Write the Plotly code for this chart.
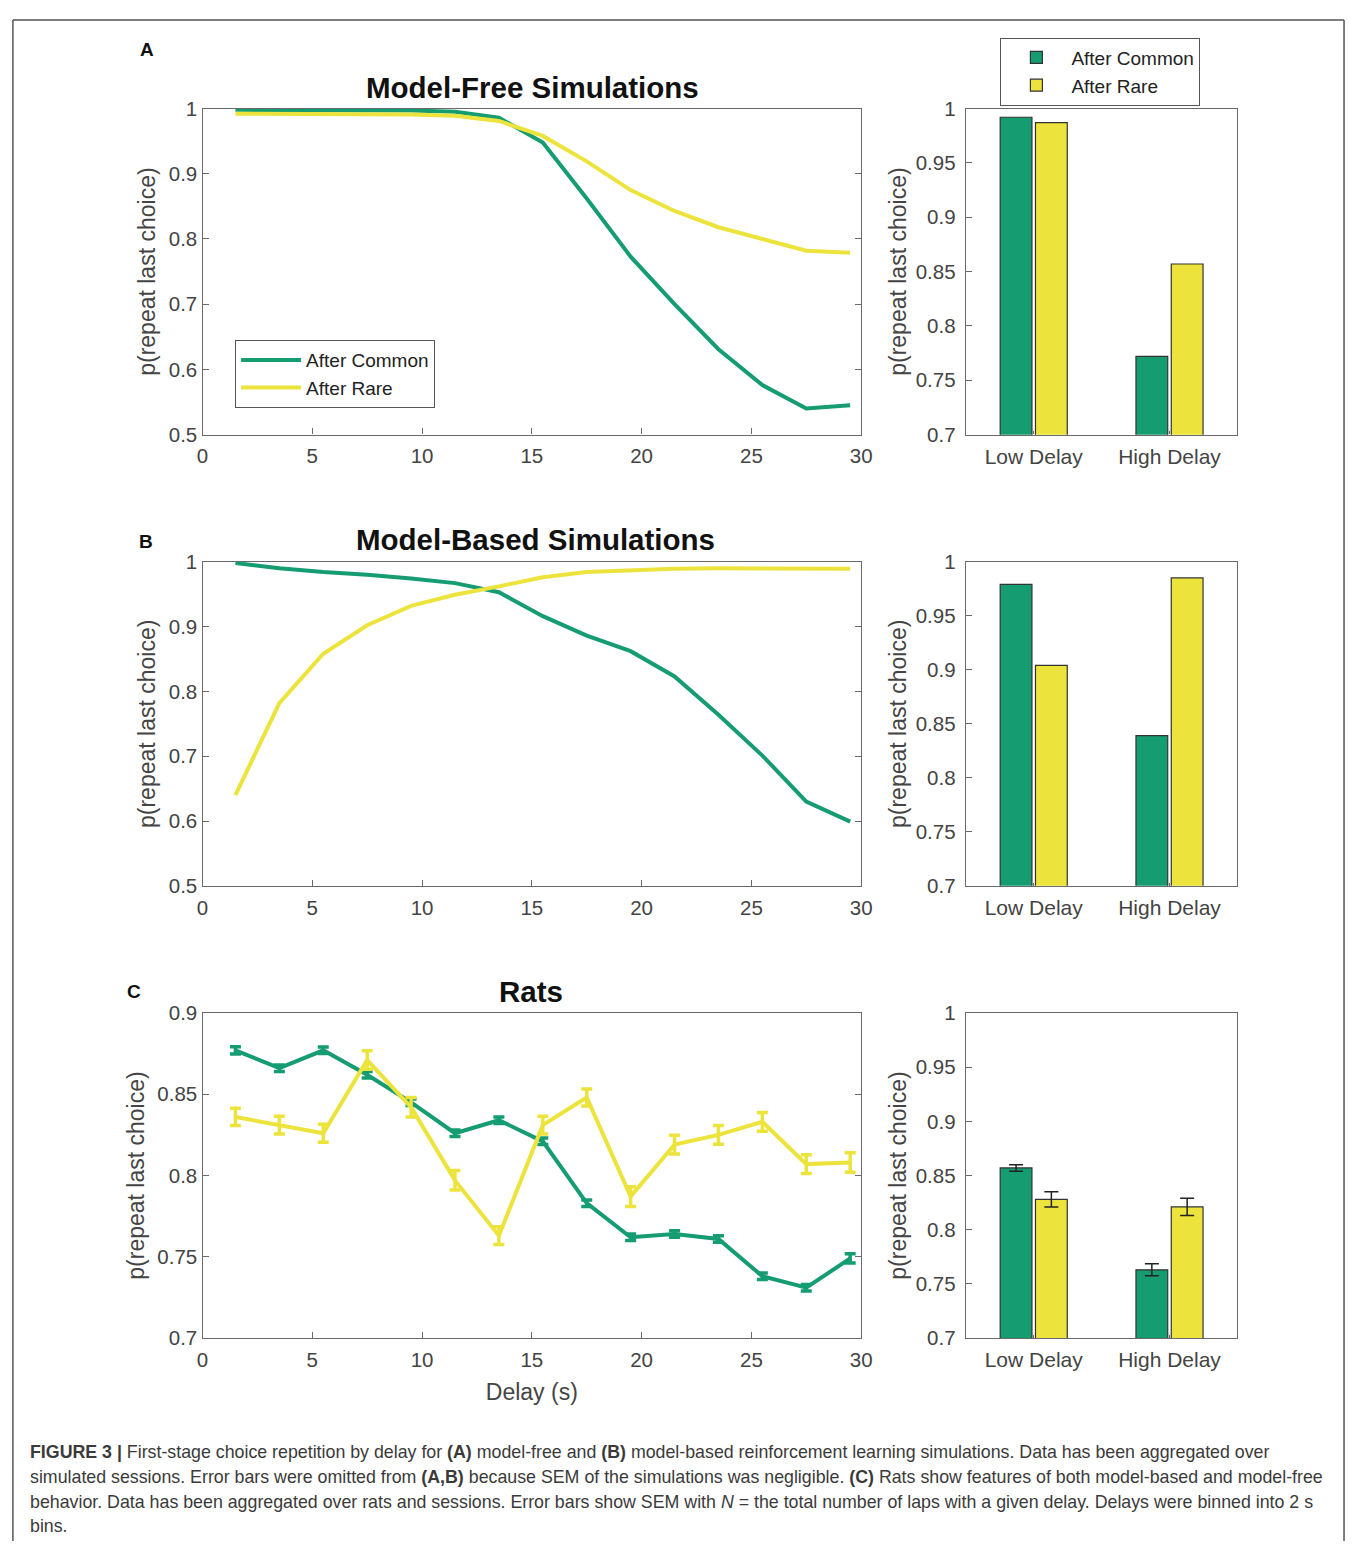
import plotly.graph_objects as go

# ---------------- data ----------------
delay = [1.5, 3.5, 5.5, 7.5, 9.5, 11.5, 13.5, 15.5, 17.5, 19.5, 21.5, 23.5, 25.5, 27.5, 29.5]

mf_common = [0.998, 0.998, 0.998, 0.998, 0.997, 0.995, 0.986, 0.948, 0.862, 0.773, 0.700, 0.631, 0.576, 0.540, 0.545]
mf_rare = [0.992, 0.992, 0.992, 0.991, 0.991, 0.989, 0.981, 0.958, 0.919, 0.875, 0.843, 0.818, 0.800, 0.782, 0.779]

mb_common = [0.998, 0.990, 0.984, 0.980, 0.974, 0.967, 0.953, 0.916, 0.886, 0.862, 0.823, 0.764, 0.701, 0.630, 0.599]
mb_rare = [0.640, 0.782, 0.858, 0.902, 0.932, 0.949, 0.962, 0.976, 0.984, 0.987, 0.989, 0.990, 0.990, 0.989, 0.989]

rat_common = [0.877, 0.866, 0.877, 0.862, 0.845, 0.826, 0.834, 0.821, 0.783, 0.762, 0.764, 0.761, 0.738, 0.731, 0.749]
rat_common_sem = [0.0022, 0.002, 0.002, 0.002, 0.002, 0.002, 0.002, 0.002, 0.002, 0.002, 0.002, 0.002, 0.002, 0.002, 0.0028]
rat_rare = [0.836, 0.831, 0.826, 0.871, 0.842, 0.797, 0.763, 0.831, 0.848, 0.787, 0.819, 0.825, 0.833, 0.807, 0.808]
rat_rare_sem = [0.0053, 0.0055, 0.0055, 0.0057, 0.006, 0.006, 0.0055, 0.0055, 0.0052, 0.006, 0.0058, 0.0058, 0.0058, 0.0058, 0.006]

bar_cats = ["Low Delay", "High Delay"]
mf_bar_common = [0.992, 0.772]
mf_bar_rare = [0.987, 0.857]
mb_bar_common = [0.979, 0.839]
mb_bar_rare = [0.904, 0.985]
rat_bar_common = [0.857, 0.763]
rat_bar_common_sem = [0.003, 0.0055]
rat_bar_rare = [0.828, 0.821]
rat_bar_rare_sem = [0.007, 0.008]

x_ticks = [0, 5, 10, 15, 20, 25, 30]
series_names = ["After Common", "After Rare"]

GREEN = "#169C71"
YELLOW = "#ECE43C"
FONT = "Liberation Sans, Arial, Helvetica, sans-serif"
AXC = "#6a6a6a"
TXT = "#444444"

W, H = 1358, 1552


def px(x):
    return x / W


def py(y):
    return 1 - y / H


fig = go.Figure()

# ---- line panels ----
line_sets = [
    ("x", "y", mf_common, mf_rare, None, None, True),
    ("x3", "y3", mb_common, mb_rare, None, None, False),
    ("x5", "y5", rat_common, rat_rare, rat_common_sem, rat_rare_sem, False),
]
for xa, ya, c, r, cs, rs, show in line_sets:
    for vals, sem, col, name in [(c, cs, GREEN, series_names[0]), (r, rs, YELLOW, series_names[1])]:
        tr = dict(
            x=delay, y=vals, mode="lines", name=name,
            line=dict(color=col, width=4),
            xaxis=xa, yaxis=ya, showlegend=show, legend="legend",
        )
        if sem is not None:
            tr["error_y"] = dict(type="data", array=sem, color=col, thickness=3.5, width=5.5)
        fig.add_trace(go.Scatter(**tr))

# ---- bar panels ----
bar_sets = [
    ("x2", "y2", mf_bar_common, mf_bar_rare, None, None, True),
    ("x4", "y4", mb_bar_common, mb_bar_rare, None, None, False),
    ("x6", "y6", rat_bar_common, rat_bar_rare, rat_bar_common_sem, rat_bar_rare_sem, False),
]
for xa, ya, c, r, cs, rs, show in bar_sets:
    for vals, sem, col, name in [(c, cs, GREEN, series_names[0]), (r, rs, YELLOW, series_names[1])]:
        tr = dict(
            x=bar_cats, y=vals, name=name,
            marker=dict(color=col, line=dict(color="#333333", width=1.2)),
            xaxis=xa, yaxis=ya, showlegend=show, legend="legend2",
        )
        if sem is not None:
            tr["error_y"] = dict(type="data", array=sem, color="#222222", thickness=1.5, width=7)
        fig.add_trace(go.Bar(**tr))

# ---- axes ----
rows = [(98, 429), (558, 887), (1016, 1346)]
line_x = (199, 866)
bar_x = (972, 1247)


def base_axis():
    return dict(
        showline=True, linecolor=AXC, linewidth=1.3,
        ticks="inside", ticklen=6, tickcolor=AXC, tickwidth=1,
        tickfont=dict(size=20.5, color=TXT, family=FONT),
        showgrid=False, zeroline=False,
    )


yt = dict(text="p(repeat last choice)", font=dict(size=23, color=TXT, family=FONT))
layout_axes = {}
line_yranges = [(0.5, 1.0, 0.1), (0.5, 1.0, 0.1), (0.7, 0.9, 0.05)]
for i, ((top, bot), (y0, y1, dt)) in enumerate(zip(rows, line_yranges)):
    xn = 2 * i + 1
    bn = 2 * i + 2
    xk = "xaxis" if xn == 1 else f"xaxis{xn}"
    yk = "yaxis" if xn == 1 else f"yaxis{xn}"
    ax = base_axis()
    ax.update(domain=[px(line_x[0]), px(line_x[1])], anchor="y" if xn == 1 else f"y{xn}",
              range=[0, 30], tickvals=x_ticks, mirror=True, ticklabelstandoff=3)
    if i == 2:
        ax["title"] = dict(text="Delay (s)", font=dict(size=23, color=TXT, family=FONT), standoff=14)
    layout_axes[xk] = ax
    ay = base_axis()
    ay.update(domain=[py(bot), py(top)], anchor="x" if xn == 1 else f"x{xn}",
              range=[y0, y1], dtick=dt, tick0=y0, mirror="ticks", ticklabelstandoff=0,
              title=dict(yt, standoff=6))
    layout_axes[yk] = ay

    bx = base_axis()
    bx.update(domain=[px(bar_x[0]), px(bar_x[1])], anchor=f"y{bn}", type="category",
              range=[-0.5, 1.5], mirror=True, ticklen=3, ticklabelstandoff=3,
              tickfont=dict(size=21, color=TXT, family=FONT))
    layout_axes[f"xaxis{bn}"] = bx
    by = base_axis()
    by.update(domain=[py(bot), py(top)], anchor=f"x{bn}", range=[0.7, 1.0], dtick=0.05,
              tick0=0.7, mirror=True, ticklabelstandoff=5, title=dict(yt, standoff=2))
    layout_axes[f"yaxis{bn}"] = by

fig.update_layout(**layout_axes)

# ---- annotations ----
ann = []
titles = [("Model-Free Simulations", 533, 77), ("Model-Based Simulations", 536, 535), ("Rats", 532, 994)]
for t, x, y in titles:
    ann.append(dict(text=f"<b>{t}</b>", x=px(x), y=py(y), xref="paper", yref="paper",
                    xanchor="center", yanchor="middle", showarrow=False,
                    font=dict(size=29.5, color="#111111", family=FONT)))
labels = [("A", 143, 38), ("B", 142, 537), ("C", 130, 994)]
for t, x, y in labels:
    ann.append(dict(text=f"<b>{t}</b>", x=px(x), y=py(y), xref="paper", yref="paper",
                    xanchor="center", yanchor="middle", showarrow=False,
                    font=dict(size=19, color="#111111", family=FONT)))

caption_lines = [
    "<b>FIGURE 3 |</b> First-stage choice repetition by delay for <b>(A)</b> model-free and <b>(B)</b> model-based reinforcement learning simulations. Data has been aggregated over",
    "simulated sessions. Error bars were omitted from <b>(A,B)</b> because SEM of the simulations was negligible. <b>(C)</b> Rats show features of both model-based and model-free",
    "behavior. Data has been aggregated over rats and sessions. Error bars show SEM with <i>N</i> = the total number of laps with a given delay. Delays were binned into 2 s",
    "bins.",
]
for i, line in enumerate(caption_lines):
    ann.append(dict(text=line, x=px(22), y=py(1462 + 25 * i), xref="paper", yref="paper",
                    xanchor="left", yanchor="middle", showarrow=False,
                    font=dict(size=17.8, color="#3a3a3a", family=FONT)))

fig.update_layout(annotations=ann)

# outer frame (left, top, right edges; runs off the bottom of the page)
frame_col = dict(color="#555555", width=1.5)
fig.add_shape(type="line", xref="paper", yref="paper", x0=px(7), x1=px(7), y0=0, y1=py(8), line=frame_col)
fig.add_shape(type="line", xref="paper", yref="paper", x0=px(7), x1=px(1355), y0=py(8), y1=py(8), line=frame_col)
fig.add_shape(type="line", xref="paper", yref="paper", x0=px(1355), x1=px(1355), y0=0, y1=py(8), line=frame_col)

fig.update_layout(
    width=W, height=H,
    margin=dict(l=0, r=0, t=0, b=0),
    paper_bgcolor="white", plot_bgcolor="white",
    font=dict(family=FONT, color=TXT),
    barmode="group", bargap=0.48, bargroupgap=0.1,
    legend=dict(x=px(232), y=py(333), xanchor="left", yanchor="top",
                bordercolor="#555555", borderwidth=1, bgcolor="white",
                font=dict(size=19, color="#222222", family=FONT), itemwidth=60,
                tracegroupgap=0),
    legend2=dict(x=px(1007), y=py(26), xanchor="left", yanchor="top",
                 bordercolor="#555555", borderwidth=1, bgcolor="white",
                 font=dict(size=19, color="#222222", family=FONT), itemwidth=60,
                 tracegroupgap=0),
)

fig.write_html(
    "out.html",
    config={"displayModeBar": False},
    post_script="document.body.style.margin='0';document.body.style.padding='0';"
                "document.documentElement.style.overflow='hidden';",
)
